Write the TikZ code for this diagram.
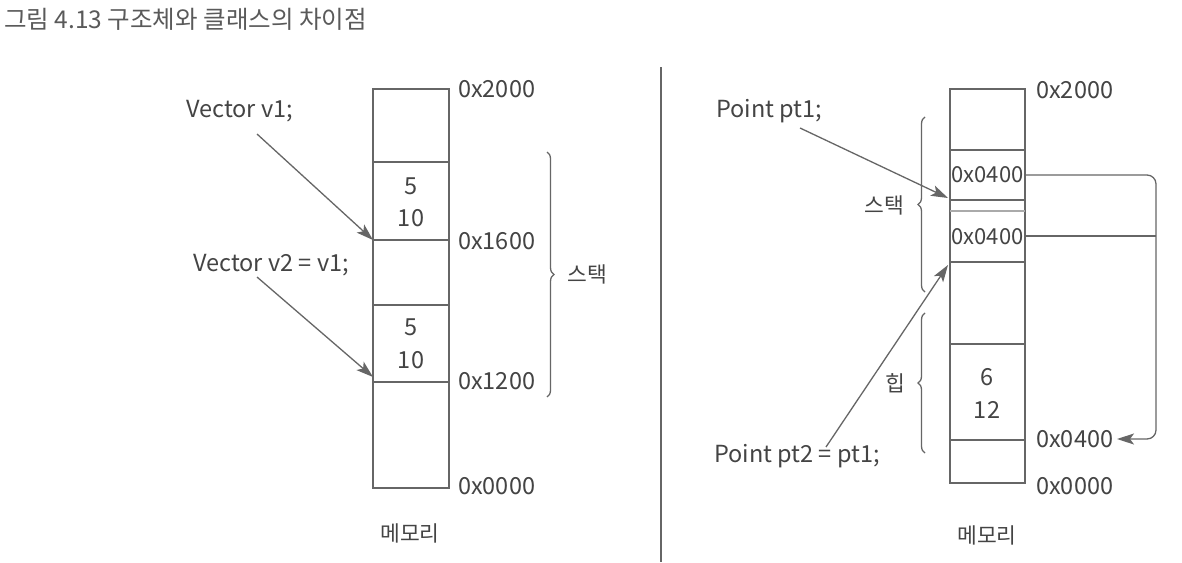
\documentclass[tikz,border=0pt]{standalone}
\usepackage{fontspec}
\setmainfont{Noto Sans CJK KR}
\usetikzlibrary{arrows.meta,decorations.pathreplacing}
\definecolor{txt}{HTML}{444444}
\definecolor{ttl}{HTML}{5A5A5A}
\definecolor{ln}{HTML}{666666}
\definecolor{lt}{HTML}{AAAAAA}
\tikzset{
  lbl/.style={text=txt, inner sep=0pt, font=\fontsize{21.5}{24}\selectfont},
  lat/.style={text=txt, inner sep=0pt, font=\fontsize{23.5}{26}\selectfont},
  inlat/.style={text=txt, inner sep=0pt, font=\fontsize{22}{26}\selectfont},
  mem/.style={draw=ln, line width=1.4pt},
  sep/.style={draw=ln, line width=1.4pt},
  lsep/.style={draw=lt, line width=2.4pt},
  brc/.style={draw=ln, line width=1.3pt, decorate, decoration={brace, amplitude=7pt}},
  ptr/.style={draw=ln, line width=1.3pt, -{Stealth[length=17pt,width=11pt,inset=4pt]}},
}
\begin{document}
\begin{tikzpicture}[x=1pt,y=-1pt]
\useasboundingbox (0,0) rectangle (1182,562);
\fill[white] (0,0) rectangle (1182,562);
% title
\node[lbl, anchor=west, text=ttl, font=\fontsize{24.5}{28}\selectfont] (title) at (4,19) {그림 4.13 구조체와 클래스의 차이점};

% ---------- left: struct ----------
\draw[mem] (373,89) rectangle (449,488);
\draw[sep] (373,162) -- (449,162);
\draw[sep] (373,240) -- (449,240);
\draw[sep] (373,305) -- (449,305);
\draw[sep] (373,382) -- (449,382);
\node[lat] (a5) at (411,186) {5};
\node[lat] (a10) at (411,218) {10};
\node[lat] (b5) at (411,327) {5};
\node[lat] (b10) at (411,360) {10};
\node[lat, anchor=west] (la2000) at (458,89) {0x2000};
\node[lat, anchor=west] (la1600) at (458,241) {0x1600};
\node[lat, anchor=west] (la1200) at (458,381) {0x1200};
\node[lat, anchor=west] (la0000) at (458,486) {0x0000};
\draw[brc] (547,152) -- (547,397);
\node[lbl] (lstack) at (587,274) {스택};
\node[lat, anchor=west] (v1) at (186,111) {Vector v1;};
\node[lat, anchor=west] (v2) at (193,265) {Vector v2 = v1;};
\coordinate (v1s) at (257,134);
\coordinate (v1t) at (373,240);
\coordinate (v2s) at (257,277);
\coordinate (v2t) at (373,377);
\draw[ptr] (v1s) -- (v1t);
\draw[ptr] (v2s) -- (v2t);
\node[lbl] (lmem) at (410,533) {메모리};

% divider
\draw[draw=ln, line width=1.3pt] (661,67) -- (661,562);

% ---------- right: class ----------
\draw[mem] (950,89) rectangle (1025,483);
\draw[sep] (950,150) -- (1025,150);
\draw[sep] (950,200) -- (1025,200);
\draw[lsep] (950,211) -- (1025,211);
\draw[sep] (950,262) -- (1025,262);
\draw[sep] (950,344) -- (1025,344);
\draw[sep] (950,440) -- (1025,440);
\node[inlat] (r1) at (987.5,175) {0x0400};
\node[inlat] (r2) at (987.5,237) {0x0400};
\node[lat] (h6) at (987,377) {6};
\node[lat] (h12) at (987,410) {12};
\node[lat, anchor=west] (ra2000) at (1036,90) {0x2000};
\node[lat, anchor=west] (ra0400) at (1036,439) {0x0400};
\node[lat, anchor=west] (ra0000) at (1036,486) {0x0000};
\draw[brc] (925,292) -- (925,117);
\draw[brc] (925,453) -- (925,313);
\node[lbl] (rstack) at (884,205) {스택};
\node[lbl] (rheap) at (895,383) {힙};
\node[lat, anchor=west] (p1) at (716,111) {Point pt1;};
\node[lat, anchor=west] (p2) at (714,456) {Point pt2 = pt1;};
\coordinate (p1s) at (800,128);
\coordinate (p1t) at (948,198);
\coordinate (p2s) at (826,447);
\coordinate (p2t) at (948,265);
\draw[ptr] (p1s) -- (p1t);
\draw[ptr] (p2s) -- (p2t);
\coordinate (c1) at (1025,175);
\coordinate (c2) at (1025,236);
\coordinate (cv) at (1156,236);
\coordinate (ct) at (1117,439);
\draw[ptr, rounded corners=9pt] (c1) -- (1156,175) -- (1156,439) -- (ct);
\draw[draw=ln, line width=1.3pt] (c2) -- (cv);
\node[lbl] (rmem) at (987,535) {메모리};
\end{tikzpicture}
\end{document}
